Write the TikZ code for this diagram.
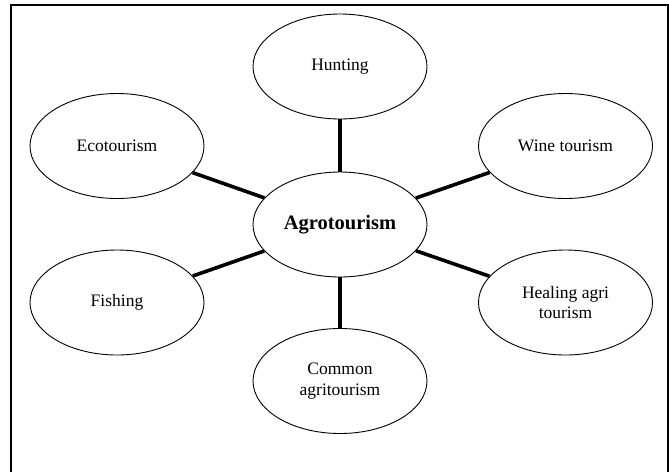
\documentclass[tikz,border=0pt]{standalone}
\usepackage{fontspec}
\setmainfont{Liberation Serif}
\usetikzlibrary{shapes.geometric}

\begin{document}
\begin{tikzpicture}[x=1pt, y=-1pt,
        topic/.style={draw, ellipse, line width=0.9pt, minimum width=174pt, minimum height=105pt,
            inner sep=0pt, align=center, font=\fontsize{17.5}{20.5}\selectfont},
        spoke/.style={line width=3.6pt}]
        \useasboundingbox (0,0) rectangle (669,472);
        % Frame (bottom edge cut off)
        \draw[line width=2.4pt] (11,472) -- (11,5) -- (668,5) -- (668,472);
        % Centre
        \node (agro) [topic, font=\fontsize{20.5}{24}\selectfont\bfseries] at (340,224.5) {Agrotourism};
        % Satellites
        \node (hunting) [topic] at (340,66.5) {Hunting};
        \node (eco) [topic] at (117,146) {Ecotourism};
        \node (wine) [topic] at (565.5,146) {Wine tourism};
        \node (fishing) [topic] at (117,302.5) {Fishing};
        \node (healing) [topic] at (565.5,302.5) {Healing agri\\tourism};
        \node (common) [topic] at (340,381) {Common\\agritourism};
        % Spokes
        \draw[spoke] (agro) -- (hunting);
        \draw[spoke] (agro) -- (eco);
        \draw[spoke] (agro) -- (wine);
        \draw[spoke] (agro) -- (fishing);
        \draw[spoke] (agro) -- (healing);
        \draw[spoke] (agro) -- (common);
    \end{tikzpicture}
\end{document}
